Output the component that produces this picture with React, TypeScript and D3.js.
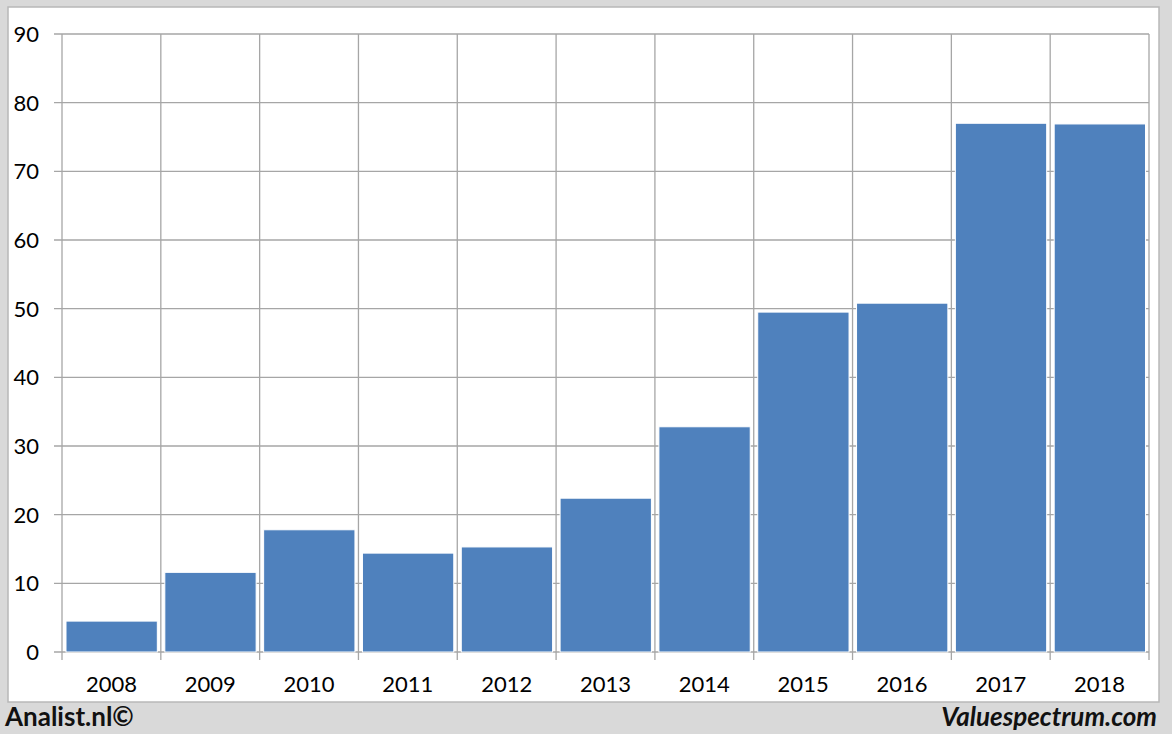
import React from "react";
import * as d3 from "d3";

const years = ["2008", "2009", "2010", "2011", "2012", "2013", "2014", "2015", "2016", "2017", "2018"];
const values = [4.5, 11.6, 17.8, 14.4, 15.3, 22.4, 32.8, 49.5, 50.8, 77.0, 76.9];
const yTicks = [0, 10, 20, 30, 40, 50, 60, 70, 80, 90];

const W = 1172, H = 734;
const left = 62, right = 1149, top = 34, bottom = 652;
const FONT = "Lato, 'Open Sans', 'Liberation Sans', sans-serif";

export default function App() {
  const x = d3.scaleBand<string>().domain(years).range([left, right]).paddingInner(0).paddingOuter(0);
  const y = d3.scaleLinear().domain([0, 90]).range([bottom, top]);
  const bw = x.bandwidth();
  const gap = 4;
  return (
    <svg width={W} height={H} style={{ position: "absolute", left: 0, top: 0 }}>
      <rect x={0} y={0} width={W} height={H} fill="#d9d9d9" />
      <rect x={8} y={7} width={1151} height={695} fill="#ffffff" stroke="#b8b8b8" strokeWidth={1.5} />
      {yTicks.map((t) => (
        <g key={t}>
          <line x1={54} x2={right} y1={y(t)} y2={y(t)} stroke="#a6a6a6" strokeWidth={1.3} />
          <text x={39} y={y(t) + 8} textAnchor="end" fontSize={22} fontFamily={FONT} fill="#000">{t}</text>
        </g>
      ))}
      {years.map((yr) => (
        <line key={yr} x1={x(yr)!} x2={x(yr)!} y1={top} y2={bottom + 8} stroke="#a6a6a6" strokeWidth={1.3} />
      ))}
      <line x1={right} x2={right} y1={top} y2={bottom + 8} stroke="#a6a6a6" strokeWidth={1.3} />
      {years.map((yr, i) => (
        <rect key={yr} x={x(yr)! + gap} y={y(values[i])} width={bw - 2 * gap + 0.5} height={bottom - y(values[i])}
          fill="#4f81bd" stroke="#ffffff" strokeWidth={1} />
      ))}
      {years.map((yr) => (
        <text key={yr} x={x(yr)! + bw / 2} y={692} textAnchor="middle" fontSize={22} fontFamily={FONT} fill="#000">{yr}</text>
      ))}
      <text x={5} y={726} fontSize={26} fontWeight="bold" fontFamily={FONT} fill="#111">Analist.nl©</text>
      <text x={1157} y={726} textAnchor="end" fontSize={26} fontWeight="bold" fontStyle="italic" fontFamily={FONT} fill="#111">Valuespectrum.com</text>
    </svg>
  );
}
